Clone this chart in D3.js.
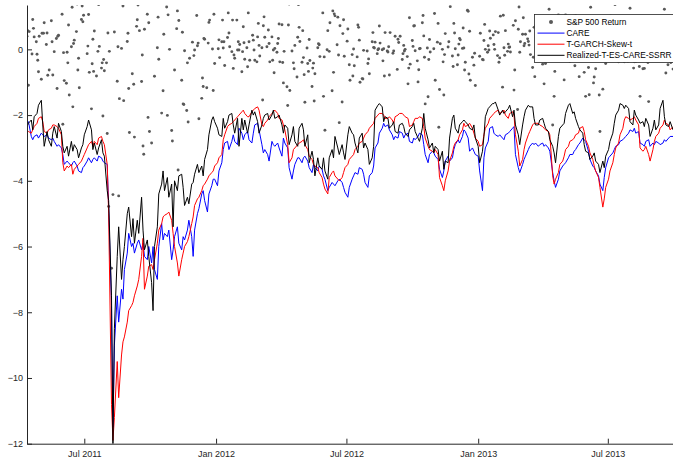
<!DOCTYPE html>
<html><head><meta charset="utf-8">
<script src="https://cdn.jsdelivr.net/npm/d3@7"></script>
<style>html,body{margin:0;padding:0;background:#fff;}svg{display:block;font-family:"Liberation Sans",Arial,Helvetica,sans-serif;}</style>
</head><body><svg id="c" width="673" height="461"></svg>
<script>
const startDate = "2011-04-12", endDate = "2013-09-30";
const seriesNames = ["S&P 500 Return","CARE","T-GARCH-Skew-t","Realized-T-ES-CARE-SSRR"];
const xTickDates = ["2011-07-01","2012-01-01","2012-07-01","2013-01-01","2013-07-01"];
const xTickLabels = ["Jul 2011","Jan 2012","Jul 2012","Jan 2013","Jul 2013"];
const yTicks = [-12,-10,-8,-6,-4,-2,0];

// daily returns (one per weekday, null = market holiday)
const returns = [
0.40,0.57,-1.09,0.54,1.5,-0.14,0.91,0.64,0.38,0.23,-0.15,-0.33,-0.68,0.40,-0.91,0.49,1.6,0.49,0.81,0.15,
0.50,-0.79,1.5,-0.63,0.87,0.23,-0.78,1.4,-0.07,0.33,-1.19,0.40,0.43,1.8,null,1.07,-2.28,-0.10,-0.95,-1.03,
-0.09,-0.41,0.74,-1.39,0.08,1.28,-1.75,0.18,0.28,0.54,1.38,-0.63,-0.27,-1.17,0.91,1.32,0.84,1.04,1.45,null,
-0.13,0.10,1.06,-0.70,-1.81,-0.44,0.31,-0.67,0.56,-0.81,1.63,-0.06,1.36,0.09,-0.57,-0.41,-2.03,-0.31,-0.65,-0.41,
-2.56,0.50,-4.78,-0.06,-6.66,4.74,-4.42,4.63,0.53,2.18,-0.97,0.08,-4.46,-1.50,0.03,3.44,1.32,-1.56,1.51,2.83,
0.24,0.49,-1.19,-2.53,null,-0.74,2.88,-1.06,-2.67,0.70,0.90,1.35,1.73,0.57,-0.98,-0.17,-2.94,-3.19,0.61,2.33,
1.07,-2.07,0.81,-2.50,-2.85,2.25,1.83,1.83,-0.82,3.41,0.05,0.98,-0.30,1.74,-1.94,2.04,-1.26,0.46,1.88,1.29,
-2.01,1.05,3.43,0.00,-2.47,-2.79,1.57,1.88,-0.63,0.63,1.17,-3.67,0.88,1.95,-0.94,0.52,-1.66,-1.68,-0.04,-1.86,
-0.41,-2.21,null,-0.27,2.92,0.22,4.33,-0.19,-0.02,1.03,0.11,0.19,-2.11,1.69,-1.49,-0.87,-1.13,0.33,0.31,-1.17,
2.98,0.19,0.82,0.89,null,0.01,-1.25,1.07,-0.43,null,1.55,0.02,0.29,-0.25,0.23,0.89,0.04,0.23,-0.49,null,
0.36,1.11,0.50,0.08,-0.07,0.89,-0.58,-0.17,-0.27,0.89,-0.02,0.23,-0.02,0.15,-0.68,-0.07,0.69,0.20,-0.30,0.05,
-0.53,1.11,0.23,-0.33,null,0.43,0.28,-0.02,-0.33,-0.38,0.38,0.79,0.12,-0.20,0.05,-1.54,0.72,0.99,0.37,0.08,
1.80,0.59,0.18,-0.38,0.38,-0.33,-0.02,-0.71,0.03,-0.09,0.18,0.33,0.77,-0.38,0.75,-0.40,-1.02,-0.06,null,-1.14,
-1.71,0.74,1.38,-1.25,-0.05,1.55,-0.41,-0.59,0.12,-0.84,0.37,1.36,0.67,0.24,-0.39,0.57,-0.25,-0.77,-1.61,0.04,
-0.43,-0.67,0.30,-0.34,-1.13,-0.57,-0.42,-1.57,-0.74,1.60,0.05,0.17,0.14,-0.22,null,1.11,-1.43,-0.23,-2.46,-0.01,
0.57,2.30,-0.06,0.81,-1.26,1.17,-0.70,1.08,1.02,0.14,0.98,-0.17,-2.23,0.72,-1.60,0.48,0.90,-0.21,2.49,0.25,
0.62,null,-0.47,-0.94,-0.16,-0.81,0.01,-0.50,1.65,-0.23,0.74,0.67,0.28,-1.00,-0.89,-0.90,-0.03,1.65,1.91,-0.05,
-0.43,-0.29,-0.74,1.90,0.23,0.51,0.06,0.04,0.22,-0.13,-0.01,0.02,0.71,0.19,-0.01,-0.35,0.02,-0.81,0.51,-0.05,
-0.08,0.08,-0.78,0.51,null,-0.12,-0.05,2.04,0.40,-0.61,0.31,0.21,1.63,0.40,-0.31,-0.13,0.12,-0.05,0.00,-0.22,
-1.05,-0.57,0.96,-0.45,0.27,0.09,0.71,0.72,-0.04,-0.35,-0.99,-0.62,0.02,0.03,0.81,1.03,0.41,-0.24,-1.66,0.04,
-1.44,-0.31,0.30,-0.08,null,null,0.02,1.09,-0.94,0.22,0.79,-2.37,-1.22,0.17,0.00,-0.38,-1.39,-0.16,0.48,1.99,
0.07,0.23,null,1.30,-0.20,-0.52,0.79,0.50,0.02,-0.47,-0.17,0.16,0.33,0.29,0.03,0.65,0.04,-0.63,-0.39,1.19,
1.16,-0.75,0.55,-0.94,-0.24,null,-0.48,-0.12,-1.10,1.69,null,2.54,-0.21,0.49,-0.31,-0.32,0.27,0.76,0.00,-0.09,
0.11,-0.02,0.56,0.34,null,0.44,0.15,0.00,0.54,-0.19,0.51,-0.39,-0.26,1.01,-1.15,1.04,0.05,-0.18,0.57,-0.06,
0.16,0.06,0.07,-0.08,null,0.73,-1.24,-0.63,0.87,-1.83,0.61,1.29,-0.09,0.23,0.46,0.96,0.11,0.18,0.46,0.32,
0.24,0.13,0.56,-0.16,-0.55,-0.24,0.67,-0.83,0.72,-0.33,0.78,-0.06,0.41,null,-0.45,0.40,-1.05,0.40,-0.43,0.63,
0.35,1.22,0.36,-0.28,-2.30,1.43,-1.43,-0.67,0.88,0.47,1.05,0.03,0.40,-0.18,0.72,0.25,-0.93,0.94,1.05,0.19,
0.52,0.41,-0.37,0.37,0.00,1.01,0.51,-0.50,1.03,-0.07,0.17,-0.83,-0.29,-0.06,null,0.63,-0.70,0.37,-1.43,0.59,
-0.55,-1.38,0.85,1.28,0.00,-1.02,-0.84,1.48,-0.59,0.75,0.78,-1.39,-2.50,0.30,-1.21,0.95,0.96,0.62,-0.43,0.54,
-0.05,0.08,null,1.02,0.53,0.72,0.02,1.36,0.33,0.14,-0.38,0.28,0.50,0.16,0.20,-0.19,-0.38,0.26,0.08,-0.36,
0.04,-0.01,1.25,0.17,-0.15,-0.57,-0.38,0.40,-0.37,-0.12,0.28,-0.52,-1.43,-0.33,-0.59,0.38,-0.58,0.86,0.40,-0.40,
-1.59,0.27,0.22,-0.32,null,0.42,0.81,0.13,0.01,1.00,0.73,0.31,-0.34,0.27,0.57,0.42,1.22,-0.18,-0.72,-0.47,
-0.26,-0.27,0.28,-0.40,-0.60];

// risk forecasts, one per second weekday
const care = [
-2.2,-2.2,-2.65,-2.75,-2.65,-2.6,-2.7,-2.55,-2.6,-2.65,
-2.6,-2.7,-2.75,-2.7,-2.8,-2.95,-2.9,-3.0,-3.2,-3.5,
-3.4,-3.45,-3.55,-3.45,-3.4,-3.55,-3.7,-3.75,-3.6,-3.55,
-3.4,-3.3,-3.45,-3.35,-3.3,-3.4,-3.25,-3.3,-3.4,-3.45,
-3.5,-4.8,-7.8,-11.5,-9.0,-7.5,-8.3,-7.3,-7.6,-6.7,
-6.2,-5.6,-6.0,-5.9,-6.2,-5.9,-5.8,-6.1,-5.9,-6.3,
-6.4,-6.0,-6.5,-6.0,-6.7,-7.0,-6.0,-5.3,-5.8,-5.6,
-5.7,-5.5,-6.4,-6.1,-5.7,-5.4,-5.9,-6.1,-5.7,-5.8,
-5.5,-5.2,-5.7,-6.3,-5.5,-5.0,-4.85,-4.4,-4.3,-4.6,
-4.95,-4.4,-4.15,-3.95,-3.95,-4.15,-3.7,-3.45,-3.05,-2.85,
-2.8,-3.05,-2.8,-2.6,-2.8,-2.9,-2.4,-2.55,-2.75,-2.6,
-2.5,-2.75,-2.85,-2.55,-2.3,-2.25,-2.45,-2.9,-3.15,-3.05,
-3.2,-3.4,-2.8,-2.9,-2.95,-2.85,-3.0,-3.25,-2.7,-2.85,
-3.0,-3.6,-3.95,-3.7,-3.5,-3.3,-3.3,-3.45,-3.3,-3.25,
-3.4,-3.6,-3.75,-3.5,-3.6,-3.7,-3.55,-3.65,-3.85,-3.95,
-4.3,-4.2,-4.05,-4.1,-4.15,-4.0,-3.95,-4.05,-4.2,-4.35,
-4.5,-4.2,-3.95,-3.85,-3.75,-3.8,-3.6,-3.65,-3.8,-4.05,
-4.2,-3.85,-3.75,-3.55,-3.0,-2.85,-2.55,-2.4,-2.25,-2.35,
-2.3,-2.45,-2.6,-2.75,-2.65,-2.7,-2.5,-2.55,-2.7,-2.6,
-2.55,-2.8,-2.85,-2.7,-2.75,-2.65,-2.55,-2.6,-2.9,-3.2,
-3.45,-3.2,-3.1,-3.15,-3.25,-3.35,-3.65,-3.9,-3.7,-3.4,
-3.25,-3.4,-3.3,-3.05,-2.9,-2.75,-2.85,-2.65,-2.45,-2.5,
-2.7,-3.1,-3.0,-3.1,-3.2,-3.25,-3.7,-4.3,-3.3,-3.0,
-2.8,-2.4,-2.35,-2.55,-2.6,-2.65,-2.6,-2.7,-2.75,-2.6,
-2.55,-2.5,-2.4,-2.35,-3.2,-3.6,-3.75,-3.5,-3.35,-3.25,
-3.05,-2.95,-2.85,-2.9,-2.85,-2.95,-2.9,-2.85,-2.95,-2.9,
-3.0,-3.1,-3.75,-4.0,-4.2,-3.95,-3.7,-3.55,-3.5,-3.45,
-3.3,-3.2,-3.2,-3.1,-3.05,-2.9,-2.85,-2.7,-2.75,-2.8,
-3.1,-3.35,-3.55,-3.6,-3.7,-3.85,-4.1,-4.3,-3.9,-3.6,
-3.3,-3.25,-3.15,-3.05,-2.95,-2.9,-2.8,-2.75,-2.7,-2.65,
-2.55,-2.45,-2.5,-2.4,-2.55,-2.5,-2.85,-2.9,-2.95,-2.8,
-2.75,-2.95,-2.85,-2.9,-2.8,-2.85,-2.9,-2.85,-2.75,-2.8,
-2.7,-2.65,-2.65];

const tgarch = [
-2.45,-2.5,-2.55,-2.45,-2.35,-2.25,-2.1,-2.05,-2.2,-2.5,
-2.55,-2.45,-2.4,-2.3,-2.3,-2.35,-2.4,-2.6,-3.45,-3.7,
-3.55,-3.6,-3.5,-3.8,-3.65,-3.55,-3.5,-3.4,-3.3,-3.2,
-3.0,-2.9,-2.8,-2.95,-2.8,-2.9,-2.7,-2.65,-2.8,-2.9,
-3.5,-5.0,-10.8,-11.9,-11.2,-9.5,-10.6,-9.3,-8.9,-8.75,
-8.3,-7.95,-7.8,-7.7,-7.5,-7.2,-7.0,-6.3,-5.75,-7.3,
-6.9,-6.6,-6.55,-6.7,-6.4,-5.9,-5.5,-5.3,-5.1,-5.05,
-5.0,-4.95,-5.2,-5.6,-6.0,-6.5,-6.9,-6.4,-6.2,-6.0,
-5.85,-5.7,-5.3,-5.1,-4.75,-4.55,-4.5,-4.3,-4.15,-4.1,
-3.95,-3.85,-3.75,-3.7,-3.55,-3.45,-3.3,-3.2,-2.75,-2.6,
-2.35,-2.3,-2.25,-2.2,-2.15,-2.05,-2.0,-1.9,-1.85,-1.95,
-2.05,-2.05,-1.9,-1.85,-1.8,-1.75,-1.85,-2.3,-2.35,-2.25,
-2.15,-2.05,-1.95,-1.9,-1.85,-1.95,-2.1,-2.15,-2.3,-2.45,
-2.9,-3.45,-3.3,-3.05,-3.0,-2.9,-2.85,-2.8,-2.75,-2.9,
-3.05,-3.25,-3.35,-3.5,-3.55,-3.6,-3.75,-3.9,-4.1,-4.25,
-4.4,-3.9,-3.75,-3.7,-3.85,-3.95,-4.0,-3.9,-3.75,-3.6,
-3.5,-3.35,-3.25,-3.2,-3.05,-2.95,-2.85,-2.8,-2.7,-2.6,
-2.5,-2.4,-2.3,-2.25,-2.1,-2.0,-1.95,-1.95,-2.0,-2.1,
-2.1,-2.05,-2.15,-2.25,-2.05,-2.0,-1.95,-1.95,-2.0,-2.05,
-2.1,-2.35,-2.3,-2.2,-2.1,-2.1,-2.05,-2.1,-2.35,-2.7,
-2.95,-3.05,-3.1,-3.15,-3.05,-3.2,-3.9,-4.15,-4.3,-4.0,
-3.7,-3.4,-3.15,-2.95,-2.85,-2.75,-2.6,-2.45,-2.25,-2.35,
-2.3,-2.25,-2.4,-2.55,-2.7,-2.8,-2.95,-2.9,-2.6,-2.4,
-2.25,-2.1,-2.0,-1.95,-1.9,-1.85,-1.95,-1.9,-1.85,-2.0,
-2.1,-1.95,-1.9,-2.0,-2.6,-3.1,-3.55,-3.35,-3.05,-2.85,
-2.6,-2.5,-2.3,-2.25,-2.25,-2.25,-2.3,-2.35,-2.4,-2.45,
-2.5,-2.6,-3.85,-4.1,-3.95,-3.75,-3.5,-3.4,-3.25,-3.05,
-2.95,-2.8,-2.75,-2.7,-2.6,-2.55,-2.4,-2.35,-2.5,-2.75,
-2.95,-3.15,-3.35,-3.55,-3.7,-3.9,-4.2,-4.8,-4.55,-4.2,
-3.95,-3.7,-3.45,-3.2,-3.0,-2.85,-2.6,-2.4,-2.15,-2.05,
-2.1,-2.15,-2.1,-2.05,-2.15,-2.3,-3.0,-3.1,-3.05,-2.95,
-3.2,-3.4,-3.05,-2.8,-2.65,-2.55,-2.4,-2.3,-2.15,-2.25,
-2.3,-2.45,-2.35];

const realized = [
-2.35,-2.25,-2.15,-2.45,-2.05,-1.95,-1.7,-1.55,-2.3,-2.95,
-2.5,-2.75,-2.95,-2.55,-2.35,-2.7,-2.25,-2.5,-2.95,-3.15,
-2.95,-3.25,-2.8,-3.1,-2.9,-3.05,-3.3,-3.0,-2.9,-2.6,
-2.35,-2.15,-2.45,-3.05,-2.85,-3.2,-3.0,-2.75,-3.15,-3.25,
-4.3,-4.6,-7.5,-12.0,-8.5,-6.3,-5.4,-7.0,-6.4,-6.0,
-5.0,-4.8,-5.7,-5.15,-5.9,-5.2,-5.6,-4.5,-5.5,-6.1,
-5.8,-6.3,-7.1,-7.95,-6.0,-5.4,-4.4,-4.1,-3.7,-4.3,
-3.9,-4.5,-4.1,-5.4,-4.0,-4.3,-3.85,-3.8,-4.2,-4.75,
-4.5,-4.7,-4.1,-4.05,-3.8,-3.5,-3.75,-3.55,-3.85,-3.35,
-3.05,-2.6,-2.15,-2.05,-2.2,-2.4,-2.6,-2.65,-2.1,-2.4,
-2.2,-2.0,-1.95,-2.3,-2.55,-2.1,-2.95,-2.1,-2.45,-2.15,
-2.55,-2.3,-1.85,-2.0,-1.9,-2.2,-2.55,-2.3,-2.1,-2.0,
-1.95,-2.15,-2.0,-1.85,-2.1,-2.05,-2.0,-2.3,-2.55,-2.3,
-2.4,-2.9,-2.6,-2.35,-2.8,-2.95,-2.4,-2.25,-2.45,-2.95,
-2.6,-3.45,-3.1,-3.35,-3.85,-3.3,-3.55,-3.65,-3.3,-3.7,
-3.95,-3.3,-3.05,-3.3,-2.65,-3.0,-3.2,-2.9,-3.15,-3.35,
-2.6,-2.35,-2.55,-2.6,-2.85,-3.15,-2.7,-2.55,-3.0,-2.85,
-3.05,-3.5,-3.3,-2.95,-1.85,-1.7,-1.65,-1.75,-2.2,-2.05,
-2.1,-2.4,-2.3,-2.2,-2.5,-2.55,-2.3,-2.25,-2.35,-2.55,
-2.65,-2.45,-2.35,-2.25,-2.5,-2.7,-2.8,-2.4,-1.95,-2.4,
-2.75,-3.0,-2.85,-3.15,-2.95,-3.05,-3.4,-3.1,-3.65,-3.4,
-3.45,-2.7,-2.1,-2.0,-2.4,-2.55,-2.3,-2.2,-2.15,-2.2,
-2.3,-2.4,-2.45,-2.3,-2.7,-2.95,-3.45,-3.1,-2.65,-2.05,
-1.8,-1.75,-1.65,-1.65,-1.6,-1.85,-2.0,-1.85,-1.95,-1.9,
-1.8,-1.7,-2.05,-1.85,-2.3,-2.6,-2.9,-2.3,-2.05,-1.85,
-1.7,-1.75,-1.75,-2.1,-2.3,-2.3,-2.15,-2.1,-2.25,-2.4,
-2.5,-2.75,-2.95,-3.15,-3.45,-2.65,-2.4,-2.3,-2.25,-1.95,
-1.7,-1.65,-1.95,-1.9,-2.1,-2.35,-2.45,-2.55,-2.9,-3.1,
-3.15,-3.35,-3.25,-3.15,-3.4,-3.5,-3.75,-3.4,-3.6,-3.25,
-3.05,-2.8,-2.55,-2.25,-2.0,-1.85,-1.65,-1.7,-1.8,-1.7,
-1.8,-2.2,-2.3,-1.85,-2.0,-2.15,-2.25,-2.2,-2.35,-2.1,
-2.3,-2.65,-2.4,-2.15,-2.45,-2.3,-1.8,-1.55,-2.05,-2.3,
-2.35,-2.2,-2.45];

const colors = {ret:"#595959", care:"#0000ff", tgarch:"#ff0000", realized:"#000000", axis:"#262626"};

const parse = d3.utcParse("%Y-%m-%d");
const t0 = parse(startDate), t1 = parse(endDate);
const days = d3.utcDay.range(t0, d3.utcDay.offset(t1, 1)).filter(d => d.getUTCDay() % 6 !== 0);
const lineDays = days.filter((d, i) => i % 2 === 0);

const svg = d3.select("#c");
const L = 27, R = 673, T = 5, B = 443.7;
const x = d3.scaleUtc().domain([t0, t1]).range([L, R]);
const y = d3.scaleLinear().domain([-12, 1.35]).range([B, T]);

svg.append("defs").append("clipPath").attr("id", "clip")
  .append("rect").attr("x", L).attr("y", T).attr("width", R - L).attr("height", B - T);

const plot = svg.append("g").attr("clip-path", "url(#clip)");

const pts = returns.map((v, i) => ({d: days[i], v})).filter(p => p.v !== null && p.d);
plot.append("g").selectAll("circle").data(pts).join("circle")
  .attr("cx", p => x(p.d)).attr("cy", p => y(p.v)).attr("r", 1.45).attr("fill", colors.ret);

const line = d3.line().x(p => x(p.d)).y(p => y(p.v));
function series(arr) { return arr.slice(0, lineDays.length).map((v, i) => ({d: lineDays[i], v})); }
[[care, colors.care], [tgarch, colors.tgarch], [realized, colors.realized]].forEach(([arr, c]) => {
  plot.append("path").datum(series(arr)).attr("d", line)
    .attr("fill", "none").attr("stroke", c).attr("stroke-width", 1).attr("stroke-linejoin", "round");
});

const xAxis = d3.axisBottom(x).tickValues(xTickDates.map(parse))
  .tickFormat((d, i) => xTickLabels[i]).tickSizeInner(-5).tickSizeOuter(0).tickPadding(7);
const yAxis = d3.axisLeft(y).tickValues(yTicks).tickFormat(d3.format("d"))
  .tickSizeInner(-5).tickSizeOuter(0).tickPadding(4);

const gx = svg.append("g").attr("transform", `translate(0,${B})`).call(xAxis);
const gy = svg.append("g").attr("transform", `translate(${L},0)`).call(yAxis);
[gx, gy].forEach(g => {
  g.select(".domain").attr("stroke", colors.axis);
  g.selectAll(".tick line").attr("stroke", colors.axis);
  g.selectAll("text").attr("fill", colors.axis).attr("font-size", 9)
    .attr("font-family", '"Liberation Sans",Arial,Helvetica,sans-serif');
});

// legend
const lg = svg.append("g");
lg.append("rect").attr("x", 534.5).attr("y", 14.5).attr("width", 142).attr("height", 48)
  .attr("fill", "#fff").attr("stroke", colors.axis).attr("stroke-width", 0.8);
const rows = [22, 33.1, 44.2, 55.3];
const keyColors = [colors.ret, colors.care, colors.tgarch, colors.realized];
seriesNames.forEach((name, i) => {
  if (i === 0) {
    lg.append("circle").attr("cx", 551).attr("cy", rows[i]).attr("r", 2).attr("fill", keyColors[i]);
  } else {
    lg.append("line").attr("x1", 537.5).attr("x2", 564.5).attr("y1", rows[i]).attr("y2", rows[i])
      .attr("stroke", keyColors[i]).attr("stroke-width", 1);
  }
  lg.append("text").attr("x", 566.5).attr("y", rows[i]).attr("dy", "0.35em")
    .attr("font-size", 8.3).attr("fill", "#000").text(name);
});
</script></body></html>
